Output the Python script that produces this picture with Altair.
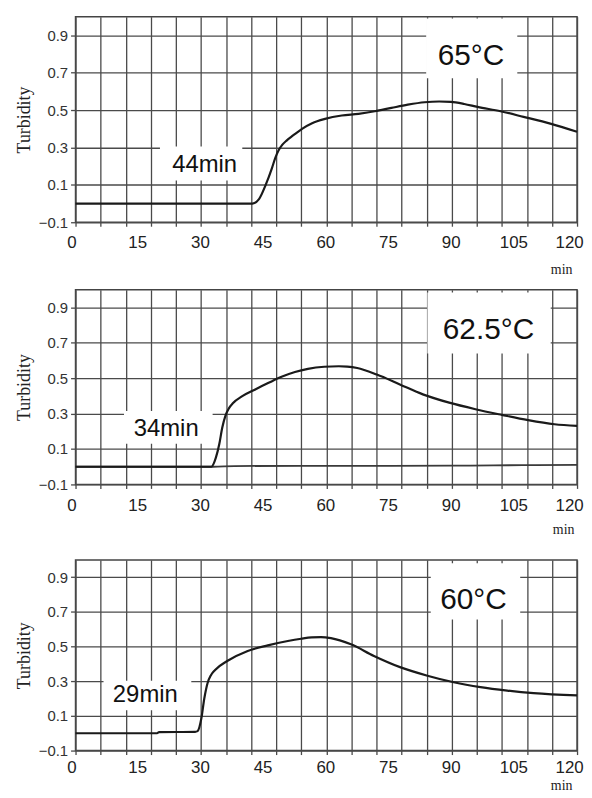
import altair as alt
import pandas as pd

# ---------------- data ----------------
t65 = [0, 42.3, 43.9, 45.5, 47.0, 47.8, 48.6, 49.5, 50.5, 51.6, 52.8, 54.2, 56.6, 59.7, 63.7, 67.7,
       71.6, 75.6, 79.5, 83.5, 87.0, 89.8, 93.0, 96.2, 101.7, 107.2, 113.6, 120]
v65 = [0, 0, 0.024, 0.100, 0.190, 0.245, 0.285, 0.315, 0.337, 0.357, 0.377, 0.400, 0.430, 0.453, 0.471, 0.480,
       0.494, 0.512, 0.529, 0.542, 0.546, 0.544, 0.533, 0.517, 0.494, 0.464, 0.428, 0.384]

t62 = [0, 32.5, 33.6, 34.4, 35.1, 35.9, 36.7, 37.7, 39.9, 43.0, 46.2, 49.3, 52.5, 55.6,
       59.5, 63.0, 65.0, 67.4, 72.1, 77.6, 83.1, 89.4, 95.7, 102.0, 108.3, 114.6, 120]
v62 = [0, 0, 0.053, 0.128, 0.220, 0.290, 0.330, 0.360, 0.399, 0.437, 0.474, 0.508, 0.535, 0.553,
       0.565, 0.568, 0.566, 0.558, 0.521, 0.465, 0.409, 0.362, 0.325, 0.293, 0.263, 0.240, 0.231]

t62c = [0, 33, 38, 60, 90, 100, 110, 120]
v62c = [0, 0, 0.004, 0.005, 0.006, 0.008, 0.009, 0.010]

t60 = [0, 19.5, 20.0, 28.6, 29.2, 30.1, 30.8, 31.6, 32.4, 33.4, 36.4, 41.2, 46.0, 50.8,
       54.0, 56.5, 58.7, 61.1, 65.9, 71.4, 77.8, 84.2, 90.5, 96.9, 103.3, 109.6, 120]
v60 = [0, 0, 0.006, 0.008, 0.012, 0.085, 0.199, 0.290, 0.335, 0.365, 0.418, 0.475, 0.507, 0.532,
       0.545, 0.553, 0.555, 0.549, 0.513, 0.446, 0.380, 0.332, 0.294, 0.266, 0.246, 0.231, 0.218]

temps = ["65°C", "62.5°C", "60°C"]
onsets = ["44min", "34min", "29min"]

y_ticks = [-0.1, 0.1, 0.3, 0.5, 0.7, 0.9]
x_grid = list(range(0, 121, 6))
x_labels = list(range(0, 121, 15))

GRID = "#4a4a4a"
SANS = "Liberation Sans"
SERIF = "Liberation Serif"
W = 505
XSCALE = alt.Scale(domain=[0, 120], nice=False, zero=False)
YSCALE = alt.Scale(domain=[-0.1, 1.0], nice=False, zero=False)


def x_grid_axis(title_x, title_y):
    return alt.Axis(
        orient="bottom",
        values=x_grid,
        tickCount=60,
        labels=False,
        grid=True,
        gridColor=GRID,
        gridWidth=1.3,
        tickColor=GRID,
        tickWidth=1.3,
        tickSize=4,
        domain=False,
        title="min",
        titleFont=SERIF,
        titleFontSize=14,
        titleFontWeight="normal",
        titleColor="#222222",
        titleX=title_x,
        titleY=title_y,
        titleAlign="center",
        titleBaseline="middle",
    )


def x_label_axis(pad):
    return alt.Axis(
        orient="bottom",
        values=x_labels,
        tickCount=60,
        grid=False,
        ticks=False,
        domain=False,
        labelFlush=False,
        labelOverlap=False,
        labelOffset={"condition": [
            {"test": "datum.value === 0", "value": -4},
            {"test": "datum.value === 120", "value": -8},
        ], "value": -1},
        labelFont=SANS,
        labelFontSize=17,
        labelColor="#222222",
        labelPadding=pad,
        title=None,
    )


def y_enc():
    return alt.Y(
        "v:Q",
        scale=YSCALE,
        axis=alt.Axis(
            values=y_ticks,
            tickCount=60,
            format=".1f",
            grid=True,
            gridColor=GRID,
            gridWidth=1.3,
            tickColor=GRID,
            tickWidth=1.3,
            tickSize=5,
            domain=False,
            labelFlush=False,
            labelOverlap=False,
            labelFont=SANS,
            labelFontSize=15,
            labelColor="#333333",
            labelPadding=3,
            title="Turbidity",
            titleFont=SERIF,
            titleFontSize=18,
            titleFontWeight="normal",
            titleColor="#222222",
            titlePadding=5,
        ),
    )


def one_row():
    return alt.Chart(pd.DataFrame({"k": [0]}))


def panel(series, onset, temp, h, onset_txt, onset_box, temp_txt, temp_box, title_x, title_y, label_pad):
    layers = []
    # white label boxes
    for (xa, xb, ya, yb) in (onset_box, temp_box):
        layers.append(
            one_row().mark_rect(fill="white").encode(
                x=alt.XDatum(xa, axis=None), x2=alt.X2Datum(xb),
                y=alt.YDatum(ya), y2=alt.Y2Datum(yb),
            )
        )
    layers.append(
        one_row().mark_text(font=SANS, fontSize=24, color="#111111").encode(
            x=alt.XDatum(onset_txt[0], axis=None), y=alt.YDatum(onset_txt[1]), text=alt.value(onset)
        )
    )
    layers.append(
        one_row().mark_text(font=SANS, fontSize=30, color="#111111").encode(
            x=alt.XDatum(temp_txt[0], axis=None), y=alt.YDatum(temp_txt[1]), text=alt.value(temp)
        )
    )
    first = True
    for (ts, vs, color, width) in series:
        df = pd.DataFrame({"t": ts, "v": vs})
        if first:
            xe = alt.X("t:Q", scale=XSCALE, axis=x_grid_axis(title_x, title_y))
        else:
            xe = alt.X("t:Q", scale=XSCALE, axis=None)
        layers.append(
            alt.Chart(df).mark_line(color=color, strokeWidth=width, interpolate="monotone").encode(
                x=xe, y=y_enc()
            )
        )
        if first:
            # invisible copy that carries the labelled axis (labels every 15 min)
            layers.append(
                alt.Chart(df).mark_line(opacity=0).encode(
                    x=alt.X("t:Q", scale=XSCALE, axis=x_label_axis(label_pad)), y=y_enc()
                )
            )
        first = False
    return alt.layer(*layers).resolve_axis(x="independent").properties(width=W, height=h)


p1 = panel(
    [(t65, v65, "#1a1a1a", 2.2)], onsets[0], temps[0], 207,
    (30.9, 0.205), (20.2, 39.9, 0.123, 0.305),
    (94.6, 0.79), (83.9, 105.7, 0.67, 0.99),
    489, 48, 12,
)
p2 = panel(
    [(t62c, v62c, "#3a3a3a", 1.8), (t62, v62, "#1a1a1a", 2.2)], onsets[1], temps[1], 196,
    (21.7, 0.212), (11.6, 32.8, 0.13, 0.315),
    (98.8, 0.773), (84.2, 113.7, 0.64, 0.985),
    491, 45, 13,
)
p3 = panel(
    [(t60, v60, "#1a1a1a", 2.2)], onsets[2], temps[2], 192,
    (16.7, 0.222), (6.7, 27.7, 0.132, 0.303),
    (95.2, 0.77), (85.0, 106.4, 0.656, 0.98),
    489, 35, 9,
)


def spacer(h):
    return one_row().mark_point(opacity=0).encode(
        x=alt.X("k:Q", axis=None), y=alt.Y("k:Q", axis=None)
    ).properties(width=W, height=h, view=alt.ViewBackground(stroke="transparent"))


chart = alt.vconcat(
    p1, spacer(68), p2, spacer(76), p3, spacing=0, bounds="flush"
).properties(
    padding={"left": 6, "top": 5, "right": 0, "bottom": 0},
    background="white",
).configure_view(
    stroke="#444444", strokeWidth=1.5
)

chart.save("out.html", embed_options={"renderer": "svg", "actions": False})
